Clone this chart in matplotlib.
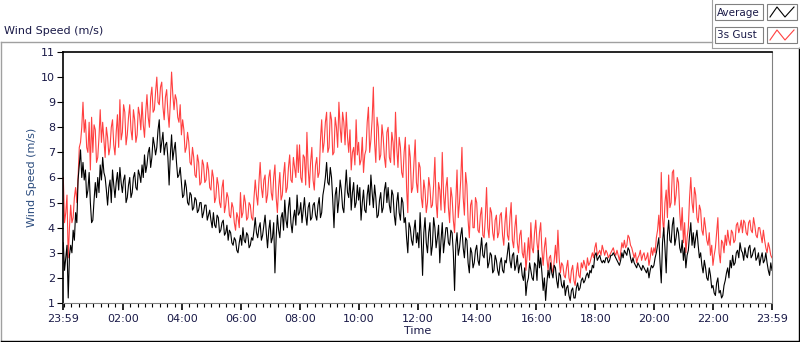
import numpy as np
import matplotlib.pyplot as plt
from matplotlib.patches import Rectangle

# minutes after 23:59, one sample every 2.5 minutes (one row per hour)
minutes = np.arange(0, 1440.1, 2.5)

gust = [
    6.0, 4.2, 4.6, 5.3, 2.8, 4.0, 4.9, 4.2, 4.4, 5.2, 5.6, 5.0, 6.0, 7.2, 7.4, 8.0, 9.0, 7.8, 8.3, 7.2, 7.0, 8.2, 6.3, 8.4,
    7.0, 8.1, 7.9, 6.6, 6.8, 7.6, 8.7, 7.4, 8.2, 7.5, 6.8, 8.0, 7.6, 6.9, 7.2, 8.0, 8.3, 7.3, 6.9, 7.8, 8.5, 7.2, 9.1, 7.5,
    7.8, 8.9, 8.6, 7.3, 7.7, 8.4, 8.9, 7.9, 7.5, 8.7, 8.3, 7.4, 7.7, 8.8, 8.5, 7.9, 9.0, 8.1, 7.6, 8.6, 9.3, 8.4, 8.0, 9.2,
    9.6, 8.6, 8.7, 9.4, 10.0, 9.0, 8.9, 9.6, 9.8, 8.8, 8.3, 9.2, 9.5, 8.6, 8.0, 9.0, 10.2, 9.3, 8.7, 9.3, 9.1, 8.4, 8.2, 8.9,
    7.7, 8.3, 7.9, 7.0, 7.2, 7.8, 7.4, 6.6, 6.5, 7.2, 6.8, 6.1, 6.0, 6.9, 6.6, 5.7, 5.8, 6.7, 6.5, 5.8, 5.9, 6.6, 6.3, 5.6,
    5.5, 6.3, 6.0, 5.0, 5.2, 6.0, 5.7, 5.0, 4.8, 5.6, 5.9, 4.6, 4.9, 5.4, 5.2, 4.5, 4.4, 5.0, 4.8, 4.2, 3.9, 4.6, 4.4, 4.0,
    5.4, 4.4, 4.6, 5.3, 5.0, 4.3, 4.4, 5.0, 4.9, 4.4, 4.3, 5.2, 5.9, 5.3, 4.9, 5.8, 6.6, 5.6, 5.2, 5.9, 6.1, 5.0, 5.3, 6.0,
    6.3, 5.4, 5.1, 6.0, 6.5, 5.2, 4.6, 5.6, 6.2, 5.1, 5.3, 6.1, 6.6, 5.4, 5.6, 6.4, 6.9, 5.9, 5.8, 6.8, 6.4, 6.0, 7.3, 6.2,
    7.3, 6.0, 5.8, 6.9, 6.8, 5.7, 7.8, 6.4, 5.6, 6.6, 7.2, 5.9, 5.5, 6.5, 6.8, 6.0, 6.2, 7.5, 8.3, 7.0, 7.4, 8.2, 8.6, 7.0,
    7.2, 8.6, 8.3, 6.9, 7.0, 8.4, 8.0, 7.2, 9.0, 8.0, 7.4, 8.6, 8.2, 7.3, 8.6, 7.6, 7.0, 7.9, 6.3, 7.0, 7.2, 6.5, 8.3, 6.9,
    7.4, 6.5, 6.7, 7.6, 6.2, 6.9, 7.1, 8.2, 8.8, 7.0, 7.5, 8.3, 9.6, 7.4, 6.6, 8.4, 8.0, 6.7, 6.9, 8.1, 7.6, 6.8, 6.4, 7.8,
    8.0, 6.8, 6.6, 7.8, 7.4, 6.5, 8.6, 7.2, 6.4, 7.6, 7.2, 6.2, 6.0, 7.0, 7.6, 5.6, 4.6, 7.3, 6.8, 5.4, 5.6, 6.6, 7.5, 5.8,
    5.4, 6.6, 6.4, 5.2, 4.8, 5.9, 5.5, 4.6, 5.0, 6.0, 5.6, 4.8, 4.9, 5.7, 6.8, 5.0, 4.4, 5.8, 5.5, 4.7, 7.0, 5.4, 4.6, 5.6,
    6.0, 4.8, 4.2, 5.6, 5.2, 4.3, 3.8, 5.0, 6.3, 4.4, 5.0, 5.9, 7.2, 5.2, 4.5, 6.2, 5.7, 4.3, 3.6, 4.9, 5.1, 4.0, 4.0, 5.2,
    5.0, 3.9, 3.8, 4.5, 4.8, 3.7, 3.6, 4.4, 5.6, 4.0, 3.6, 4.8, 4.6, 3.8, 3.5, 4.3, 4.5, 3.6, 3.8, 4.5, 4.6, 3.7, 3.3, 4.2,
    4.8, 3.7, 3.5, 4.4, 5.0, 3.5, 3.2, 4.0, 4.5, 3.4, 3.0, 3.7, 3.9, 3.0, 2.8, 3.4, 2.3, 2.9, 3.6, 2.7, 4.2, 3.2, 3.0, 3.8,
    4.3, 3.4, 3.0, 3.8, 4.2, 3.1, 2.5, 3.2, 3.6, 2.8, 2.3, 2.8, 2.9, 2.4, 2.2, 2.7, 3.3, 2.6, 3.9, 2.8, 2.2, 2.6, 2.5, 2.1,
    2.0, 2.4, 2.7, 2.0, 1.8, 2.3, 2.5, 1.9, 1.7, 2.2, 2.6, 2.1, 2.0, 2.6, 2.4, 2.7, 2.5, 2.3, 2.8, 2.5, 2.6, 2.8, 3.0, 2.8,
    3.2, 3.4, 2.9, 3.0, 3.1, 2.9, 3.3, 3.1, 2.9, 3.1, 3.0, 2.8, 2.9, 3.0, 3.1, 3.2, 3.0, 2.9, 3.1, 2.9, 2.7, 3.0, 3.4, 3.2,
    3.5, 3.2, 3.3, 3.7, 3.6, 3.3, 3.2, 3.0, 2.8, 3.0, 2.6, 2.8, 2.9, 3.1, 2.7, 2.9, 3.0, 2.7, 2.8, 3.0, 2.5, 2.8, 3.2, 2.9,
    3.2, 3.0, 3.6, 3.9, 4.5, 3.6, 6.2, 4.4, 3.8, 5.0, 5.5, 4.4, 6.1, 4.8, 5.0, 6.2, 6.3, 4.9, 5.3, 6.0, 5.8, 4.6, 3.9, 4.8,
    3.4, 4.2, 3.0, 3.6, 4.0, 5.2, 6.0, 5.0, 4.6, 5.6, 5.3, 4.4, 4.2, 4.9, 4.7, 3.9, 3.7, 4.4, 4.0, 3.5, 3.3, 3.8, 2.9, 3.3,
    2.5, 2.9, 3.2, 3.8, 4.4, 3.0, 2.6, 3.5, 3.4, 3.0, 3.7, 3.3, 3.9, 3.5, 3.3, 3.9, 3.8, 3.4, 3.5, 4.1, 4.2, 3.8, 4.0, 4.3,
    3.8, 4.3, 4.2, 3.8, 3.7, 4.2, 4.3, 3.9, 3.8, 4.4, 4.1, 3.7, 3.6, 4.0, 4.0, 3.7, 3.4, 3.9, 3.5, 3.2, 3.0, 3.4, 3.2, 2.9,
    2.8,
]

average = [
    3.4, 2.3, 2.8, 3.3, 1.2, 2.9, 3.3, 3.0, 3.9, 3.5, 4.6, 4.2, 5.9, 6.5, 7.1, 6.0, 6.6, 5.9, 6.3, 5.2, 5.5, 6.2, 5.0, 4.2,
    4.3, 5.1, 5.8, 5.2, 6.0, 5.4, 6.5, 5.9, 6.8, 6.2, 6.0, 5.5, 4.9, 5.6, 5.9, 5.0, 6.3, 5.7, 5.2, 5.8, 6.2, 5.5, 6.4, 5.8,
    5.4, 5.9, 6.1, 5.0, 5.2, 5.7, 6.0, 5.2, 5.4, 6.0, 6.2, 5.6, 5.5, 6.3, 6.1, 5.8, 6.5, 6.0, 6.9, 6.2, 6.5, 7.0, 7.2, 6.4,
    6.8, 7.6, 7.3, 6.9, 7.2, 7.9, 8.3, 7.0, 7.4, 7.8, 6.9, 7.3, 7.4, 6.8, 5.7, 6.9, 7.7, 6.7, 7.1, 7.4, 6.6, 6.0, 6.1, 6.4,
    5.8, 5.2, 5.3, 5.9, 5.6, 5.0, 4.9, 5.4, 5.3, 4.7, 4.8, 5.2, 5.1, 4.6, 4.7, 5.0, 5.0, 4.4, 4.6, 4.9, 4.9, 4.3, 4.5, 4.7,
    4.3, 4.0, 4.6, 4.1, 4.0, 4.5, 4.4, 3.8, 3.9, 4.2, 4.3, 3.7, 3.8, 4.1, 3.5, 3.9, 3.8, 3.4, 3.3, 3.6, 3.5, 3.1, 3.0, 3.4,
    3.7, 3.3, 4.0, 3.5, 3.4, 3.8, 3.7, 3.2, 3.3, 3.6, 3.5, 3.9, 4.4, 3.8, 3.6, 4.0, 4.2, 3.5, 3.7, 4.1, 4.5, 3.8, 3.2, 3.9,
    4.3, 3.4, 3.6, 4.2, 2.2, 3.6, 4.5, 3.9, 3.6, 4.4, 4.6, 3.9, 5.1, 4.3, 4.0, 4.8, 5.2, 4.2, 3.8, 4.4, 4.7, 4.1, 5.3, 4.5,
    4.6, 5.0, 4.2, 4.7, 5.2, 4.5, 4.1, 4.8, 5.0, 4.3, 4.4, 4.9, 5.0, 4.5, 4.3, 4.9, 5.2, 4.4, 4.6, 5.3, 5.6, 6.0, 6.6, 5.8,
    5.7, 6.4, 6.0, 5.1, 4.0, 5.3, 5.6, 4.6, 5.1, 5.9, 5.5, 4.8, 4.6, 5.5, 6.3, 5.4, 5.2, 6.0, 4.7, 5.4, 5.8, 4.8, 5.0, 5.7,
    5.1, 5.6, 4.3, 5.0, 5.5, 4.7, 4.6, 5.3, 5.7, 4.9, 6.1, 5.4, 4.8, 5.7, 5.2, 4.4, 4.5, 5.1, 5.4, 4.6, 4.8, 5.5, 5.8, 5.0,
    5.6, 4.9, 4.6, 5.5, 5.3, 4.5, 4.1, 5.0, 5.4, 4.6, 4.3, 5.2, 5.0, 4.2, 4.4, 3.6, 3.0, 4.2, 4.0, 3.5, 3.3, 3.9, 4.3, 3.4,
    3.8, 3.2, 4.6, 3.5, 2.1, 3.8, 4.4, 3.4, 3.0, 3.8, 4.2, 2.9, 3.3, 4.4, 4.0, 3.2, 3.6, 4.1, 2.6, 3.5, 4.2, 3.0, 3.5, 4.0,
    4.0, 3.4, 3.3, 3.9, 3.8, 3.0, 1.5, 3.3, 3.8, 2.9, 3.2, 3.7, 4.0, 3.2, 2.8, 3.6, 3.5, 2.6, 2.2, 3.2, 3.0, 2.4, 2.6, 3.1,
    3.3, 2.7, 2.5, 3.1, 3.6, 2.9, 2.8, 3.3, 3.4, 2.4, 2.6, 3.0, 2.9, 2.2, 2.3, 2.9, 2.7, 2.3, 2.1, 2.6, 2.8, 2.3, 2.2, 2.7,
    2.6, 3.0, 3.4, 2.7, 2.4, 2.9, 3.0, 2.3, 2.5, 2.9, 2.2, 2.5, 2.6, 2.1, 1.9, 2.4, 1.3, 1.8, 2.0, 2.6, 2.3, 2.0, 1.9, 2.6,
    2.5, 1.9, 3.1, 2.4, 2.8, 2.2, 1.5, 2.0, 1.1, 1.8, 2.3, 2.0, 2.6, 2.2, 2.0, 2.5, 2.4, 1.9, 1.6, 2.2, 2.1, 1.7, 1.6, 1.9,
    1.3, 1.6, 1.7, 1.3, 1.1, 1.5, 1.6, 1.2, 1.2, 1.6, 1.8, 1.5, 1.6, 1.9, 2.0, 1.8, 1.9, 2.1, 2.2, 2.0, 2.3, 2.2, 2.5, 2.4,
    2.9, 3.0, 2.7, 2.8, 2.9, 2.7, 2.6, 2.7, 2.6, 2.8, 2.8, 2.6, 2.7, 2.9, 2.9, 3.0, 2.9, 2.8, 2.7, 2.6, 2.5, 2.7, 3.0, 2.8,
    3.1, 3.0, 2.9, 3.2, 3.1, 2.8, 2.6, 2.8, 2.6, 2.5, 2.4, 2.6, 2.5, 2.4, 2.3, 2.5, 2.4, 2.3, 2.2, 2.4, 2.0, 2.3, 2.5, 2.4,
    2.5, 2.8, 3.0, 3.3, 3.6, 2.6, 1.8, 3.4, 4.0, 3.2, 2.2, 3.7, 4.3, 3.5, 3.4, 4.1, 4.4, 3.3, 3.6, 4.0, 3.8, 3.2, 3.0, 3.5,
    2.7, 3.2, 2.4, 2.9, 3.1, 3.7, 4.2, 3.3, 3.8, 3.2, 3.6, 3.9, 3.3, 2.8, 3.0, 2.5, 2.2, 2.7, 2.4, 2.0, 1.9, 2.4, 2.1, 1.6,
    1.7, 1.4, 1.3, 1.8, 2.0, 1.4, 1.5, 1.2, 1.3, 1.7, 1.9, 2.2, 2.4, 2.0, 2.7, 2.4, 2.9, 2.5, 2.6, 3.0, 3.1, 2.8, 3.4, 3.1,
    3.0, 2.7, 3.2, 2.9, 2.8, 3.2, 3.3, 2.8, 2.9, 3.1, 3.2, 2.7, 2.8, 3.0, 2.5, 2.8, 3.0, 2.6, 2.7, 3.0, 2.6, 2.3, 2.1, 2.6,
    2.3,
]

tick_pos = [0, 121, 241, 361, 481, 601, 721, 841, 961, 1081, 1201, 1321, 1440]
tick_labels = ['23:59', '02:00', '04:00', '06:00', '08:00', '10:00', '12:00',
               '14:00', '16:00', '18:00', '20:00', '22:00', '23:59']

navy = '#1a1a48'
red = '#ff4040'
plt.rcParams['font.family'] = ['DejaVu Sans']

fig = plt.figure(figsize=(8, 3.42), dpi=100)

# frame decorations drawn in pixel coordinates
bg = fig.add_axes([0, 0, 1, 1])
bg.set_xlim(0, 800)
bg.set_ylim(342, 0)
bg.axis('off')
bg.plot([1, 712], [42, 42], color='#a0a0a0', lw=1)
bg.plot([1, 1], [42, 341], color='#a0a0a0', lw=1)
bg.plot([1, 799], [341, 341], color='black', lw=1)
bg.plot([799, 799], [48, 341], color='black', lw=1)
bg.plot([712, 712], [0, 48], color='#a0a0a0', lw=0.8)
bg.plot([712, 799], [48, 48], color='#a0a0a0', lw=0.8)
bg.text(4, 31, 'Wind Speed (m/s)', fontsize=8, color=navy, va='center', ha='left')

for row, (name, col) in enumerate([('Average', 'black'), ('3s Gust', red)]):
    y0 = 4 + row * 23
    bg.add_patch(Rectangle((715, y0), 48, 16, facecolor='white', edgecolor='#808080', lw=0.8))
    bg.add_patch(Rectangle((767, y0), 30, 16, facecolor='white', edgecolor='#808080', lw=0.8))
    bg.text(717, y0 + 8.5, name, fontsize=7.5, color=navy, va='center', ha='left')
    bg.plot([770, 777, 785, 794], [y0 + 13, y0 + 3, y0 + 13, y0 + 3], color=col, lw=0.8)

ax = fig.add_axes([63.3 / 800, 39 / 342, 708.7 / 800, 251 / 342])
ax.plot(minutes, gust, color=red, lw=0.8)
ax.plot(minutes, average, color='black', lw=0.8)

ax.set_xlim(0, 1440)
ax.set_ylim(1, 11)
ax.set_yticks(range(1, 12))
ax.set_xticks(tick_pos)
ax.set_xticklabels(tick_labels)
ax.set_xticks(np.arange(1, 1440, 15), minor=True)
ax.tick_params(axis='both', labelsize=8, labelcolor=navy, direction='out')
ax.tick_params(axis='y', length=4, width=0.8, pad=2)
ax.tick_params(axis='x', which='major', length=5, width=1.2, pad=3)
ax.tick_params(axis='x', which='minor', length=3, width=0.8)
ax.set_xlabel('Time', fontsize=8, color=navy, labelpad=1)
ax.set_ylabel('Wind Speed (m/s)', fontsize=8, color='#2b4c7e', labelpad=3)

ax.spines['left'].set_color('black')
ax.spines['top'].set_color('black')
ax.spines['left'].set_linewidth(1.2)
ax.spines['top'].set_linewidth(1.2)
ax.spines['right'].set_color('#808080')
ax.spines['bottom'].set_color('#808080')

fig.savefig('out.png', dpi=100)
